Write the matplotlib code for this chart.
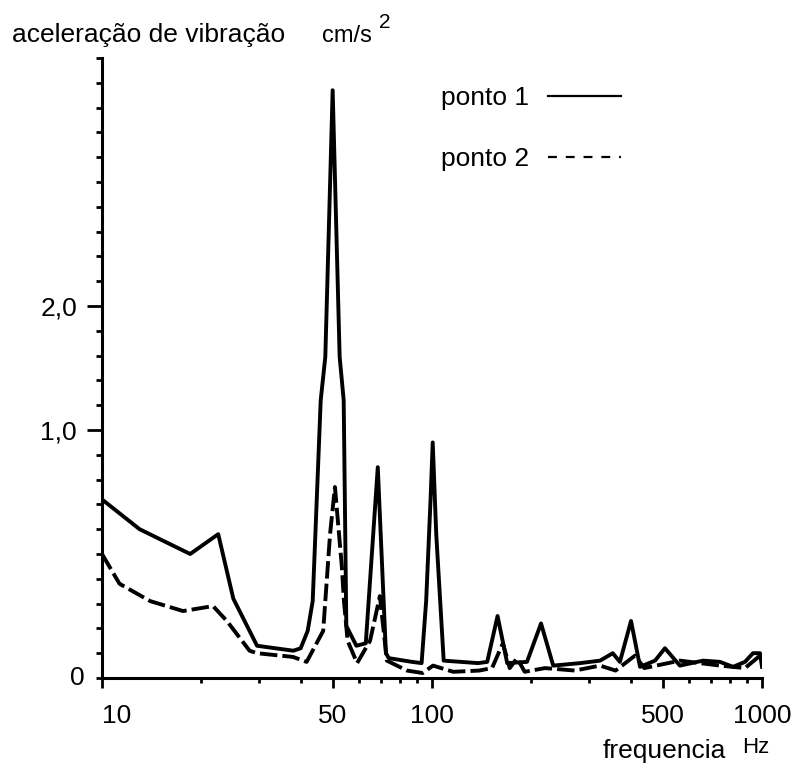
import numpy as np
import matplotlib
matplotlib.use("Agg")
from matplotlib import pyplot as plt
from matplotlib.lines import Line2D
from matplotlib.ticker import FixedLocator, NullFormatter

plt.rcParams['font.family'] = ['Liberation Sans', 'DejaVu Sans']

# ponto 1 (solid)
freq_p1 = [10, 13, 18.5, 22.5, 25, 29.5, 38, 40, 42, 43.5, 46, 47.5, 50, 52.5, 54, 55,
           59, 63, 68.5, 72.5, 74, 87, 93, 96, 99, 100.5, 103, 108.5, 138, 147, 158,
           169, 194, 214, 233, 281, 323, 353, 371, 401, 427, 474, 508, 564, 663, 746,
           817, 888, 939, 986, 1000]
acc_p1 = [0.72, 0.60, 0.50, 0.58, 0.32, 0.13, 0.11, 0.12, 0.19, 0.31, 1.24, 1.59, 3.74,
          1.59, 1.24, 0.21, 0.13, 0.14, 0.85, 0.10, 0.08, 0.065, 0.06, 0.31, 0.72, 0.95,
          0.58, 0.07, 0.06, 0.065, 0.25, 0.06, 0.065, 0.22, 0.05, 0.06, 0.07, 0.10,
          0.065, 0.23, 0.045, 0.07, 0.12, 0.05, 0.07, 0.065, 0.045, 0.065, 0.10, 0.10,
          0.045]

# ponto 2 (dashed)
freq_p2 = [10, 11.3, 14, 17.6, 21.7, 23.9, 28, 29.5, 37.9, 41.7, 46.8, 49.1, 50.8, 53.3,
           54.1, 55.5, 59.3, 64.9, 69.5, 73, 84, 93.7, 100.7, 116, 139, 152, 164, 172,
           181, 191, 220, 271, 323, 360, 412, 440, 564, 746, 888, 986]
acc_p2 = [0.50, 0.38, 0.31, 0.27, 0.29, 0.23, 0.11, 0.10, 0.085, 0.065, 0.19, 0.58, 0.77,
          0.45, 0.31, 0.15, 0.06, 0.15, 0.33, 0.07, 0.03, 0.02, 0.05, 0.025, 0.03, 0.04,
          0.14, 0.04, 0.08, 0.025, 0.04, 0.03, 0.05, 0.03, 0.09, 0.04, 0.07, 0.05, 0.04,
          0.09]

x_ticks = [10, 50, 100, 500, 1000]
x_ticklabels = ['10', '50', '100', '500', '1000']
y_ticks = [1, 2]
y_ticklabels = ['1,0', '2,0']

# vertical scale of the original axis: 0-1 over 10 divisions, then 5 divisions per unit
v_pts = [0, 1, 2, 4]
u_pts = [0, 10, 15, 25]


def fwd(v):
    return np.interp(v, v_pts, u_pts)


def inv(u):
    return np.interp(u, u_pts, v_pts)


fig = plt.figure(figsize=(8.01, 7.71), dpi=100)
ax = fig.add_axes([102/801, 1-678/771, 660/801, 620/771])

ax.plot(freq_p1, acc_p1, color='k', lw=2.8, solid_joinstyle='round')
ax.plot(freq_p2, acc_p2, color='k', lw=2.8, dashes=(4.5, 1.3))

ax.set_xscale('log')
ax.set_yscale('function', functions=(fwd, inv))
ax.set_xlim(10, 1000)
ax.set_ylim(0, 4)

for s in ['top', 'right']:
    ax.spines[s].set_visible(False)
for s in ['left', 'bottom']:
    ax.spines[s].set_linewidth(2.2)

ax.xaxis.set_major_locator(FixedLocator(x_ticks))
ax.set_xticklabels(x_ticklabels)
minor_x = [f*d for d in (10, 100) for f in range(2, 10)]
ax.xaxis.set_minor_locator(FixedLocator(minor_x))
ax.xaxis.set_minor_formatter(NullFormatter())
ax.tick_params(axis='x', which='major', length=7, width=2, pad=12, labelsize=19)
ax.tick_params(axis='x', which='minor', length=3.5, width=2)
ax.get_xticklabels()[0].set_horizontalalignment('left')

ax.yaxis.set_major_locator(FixedLocator(y_ticks))
ax.set_yticklabels(y_ticklabels)
ax.yaxis.set_minor_locator(FixedLocator(inv(np.arange(0, 26))))
ax.yaxis.set_minor_formatter(NullFormatter())
ax.tick_params(axis='y', which='major', length=11, width=2, pad=7, labelsize=19)
ax.tick_params(axis='y', which='minor', length=4.5, width=2)
ax.text(-0.026, 0, '0', transform=ax.get_yaxis_transform(), ha='right', va='center',
        fontsize=19)

# axis titles
fig.text(12/801, 1-42/771, 'aceleração de vibração', fontsize=19, va='baseline')
fig.text(322/801, 1-42/771, 'cm/s', fontsize=17, va='baseline')
fig.text(379/801, 1-28/771, '2', fontsize=15, va='baseline')
fig.text(603/801, 1-758/771, 'frequencia', fontsize=19, va='baseline')
fig.text(742/801, 1-753/771, 'Hz', fontsize=16, va='baseline')

handles = [Line2D([], [], color='k', lw=1.6),
           Line2D([], [], color='k', lw=1.6, dashes=(4, 4))]
ax.legend(handles, ['ponto 1', 'ponto 2'], loc='upper left',
          bbox_to_anchor=(441/801, 1-86/771), bbox_transform=fig.transFigure,
          frameon=False, markerfirst=False, fontsize=19, borderpad=0,
          borderaxespad=0, handlelength=2.8, handletextpad=0.7, labelspacing=1.42)

fig.savefig('out.png', dpi=100)
